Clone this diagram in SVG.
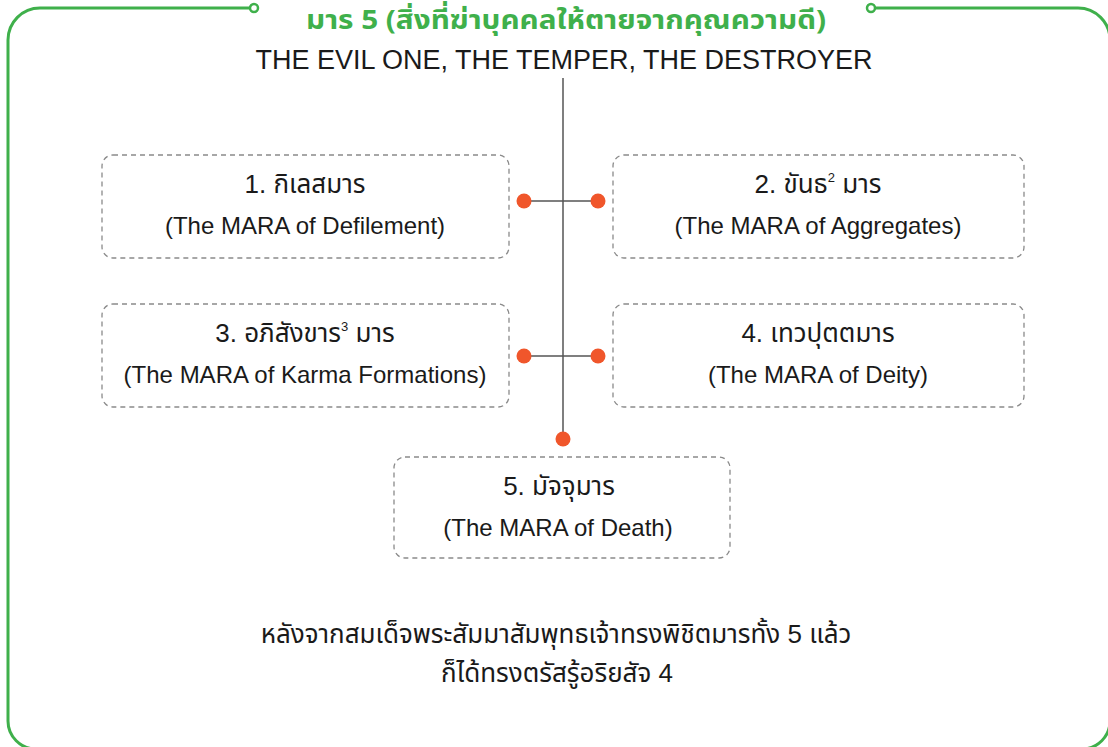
<svg xmlns="http://www.w3.org/2000/svg" width="1108" height="747" viewBox="0 0 1108 747">
<style>
.frame{fill:none;stroke:#3fb04b;stroke-width:3}
.ring{fill:#fff;stroke:#3fb04b;stroke-width:2.5}
.box{fill:#fff;stroke:#8a8a8a;stroke-width:1.3;stroke-dasharray:5 4}
.conn{stroke:#555;stroke-width:1.5;fill:none}
.dot{fill:#f0562b}
.t{font-family:"Liberation Sans","Noto Sans Thai","Noto Sans",sans-serif;fill:#1a1a1a;text-anchor:middle}
.title{font-family:"Noto Sans Thai","Liberation Sans","Noto Sans",sans-serif;fill:#3fb04b;font-weight:bold;text-anchor:middle;font-size:27px}
.n{font-size:24px}
.th{font-size:26px}
.sup{font-size:13px}
</style>
<rect width="1108" height="747" fill="#fff"/>
<g id="frame">
<path class="frame" d="M254,8 H40 A32,32 0 0 0 8,40 V721 A28,28 0 0 0 36,749 H1082 A28,28 0 0 0 1110,721 V40 A32,32 0 0 0 1078,8 H871"/>
<circle class="ring" cx="254" cy="8" r="4"/>
<circle class="ring" cx="871" cy="8" r="4"/>
<text class="title" x="566" y="29" textLength="520" lengthAdjust="spacingAndGlyphs">มาร  5 (สิ่งที่ฆ่าบุคคลให้ตายจากคุณความดี)</text>
</g>
<g id="root">
<text class="t" x="564" y="69" font-size="27">THE EVIL ONE, THE TEMPER, THE DESTROYER</text>
</g>
<g id="connectors">
<line class="conn" x1="563" y1="78" x2="563" y2="439"/>
<line class="conn" x1="524" y1="201" x2="598" y2="201"/>
<line class="conn" x1="524" y1="356" x2="598" y2="356"/>
<circle class="dot" cx="524" cy="201" r="7.5"/>
<circle class="dot" cx="598" cy="201" r="7.5"/>
<circle class="dot" cx="524" cy="356" r="7.5"/>
<circle class="dot" cx="598" cy="356" r="7.5"/>
<circle class="dot" cx="563" cy="439" r="7.5"/>
</g>
<g id="node1">
<rect class="box" x="102" y="155" width="407" height="103" rx="11"/>
<text class="t th" x="305" y="193">1.  กิเลสมาร</text>
<text class="t n" x="305" y="234">(The MARA of Defilement)</text>
</g>
<g id="node2">
<rect class="box" x="613" y="155" width="411" height="103" rx="11"/>
<text class="t th" x="818" y="193">2. ขันธ<tspan class="sup" dy="-11">2</tspan><tspan dy="11"> มาร</tspan></text>
<text class="t n" x="818" y="234">(The MARA of Aggregates)</text>
</g>
<g id="node3">
<rect class="box" x="102" y="304" width="407" height="103" rx="11"/>
<text class="t th" x="305" y="342">3. อภิสังขาร<tspan class="sup" dy="-11">3</tspan><tspan dy="11"> มาร</tspan></text>
<text class="t n" x="305" y="383">(The MARA of Karma Formations)</text>
</g>
<g id="node4">
<rect class="box" x="613" y="304" width="411" height="103" rx="11"/>
<text class="t th" x="818" y="342">4. เทวปุตตมาร</text>
<text class="t n" x="818" y="383">(The MARA of Deity)</text>
</g>
<g id="node5">
<rect class="box" x="394" y="457" width="336" height="101" rx="11"/>
<text class="t th" x="559" y="495">5. มัจจุมาร</text>
<text class="t n" x="558" y="536">(The MARA of Death)</text>
</g>
<g id="footer">
<text class="t th" x="556" y="643">หลังจากสมเด็จพระสัมมาสัมพุทธเจ้าทรงพิชิตมารทั้ง 5 แล้ว</text>
<text class="t th" x="557" y="682">ก็ได้ทรงตรัสรู้อริยสัจ 4</text>
</g>
</svg>
